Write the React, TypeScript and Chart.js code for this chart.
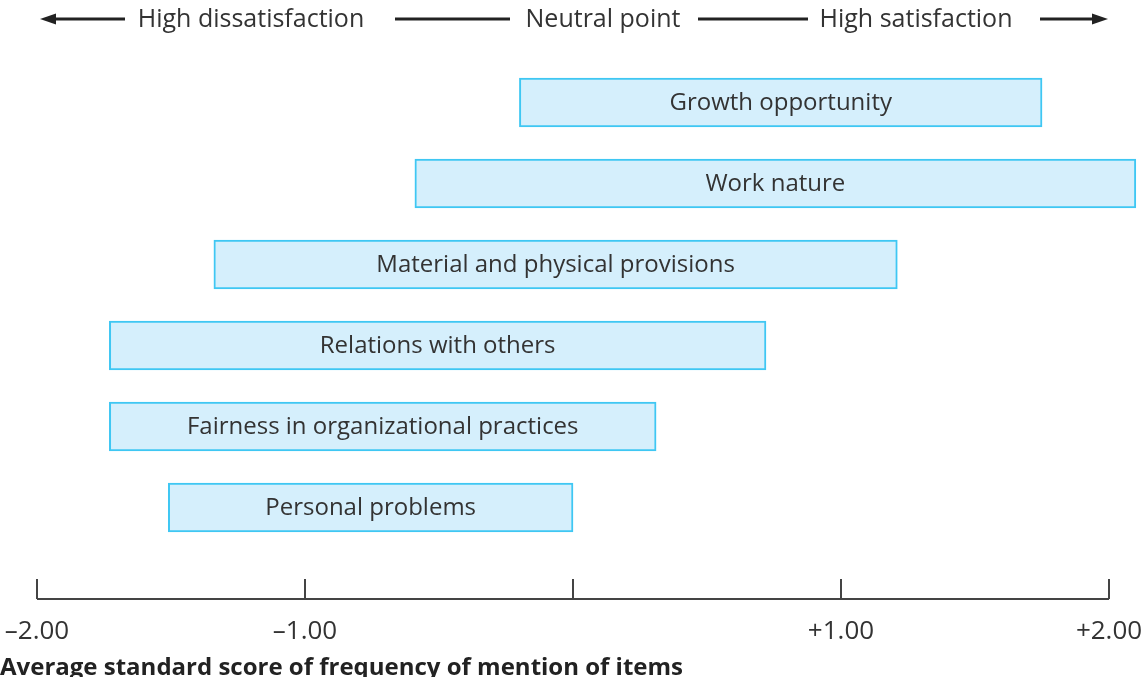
import { useEffect, useRef } from 'react';
import { Chart, registerables } from 'chart.js';

Chart.register(...registerables);

const categories = [
  'Growth opportunity',
  'Work nature',
  'Material and physical provisions',
  'Relations with others',
  'Fairness in organizational practices',
  'Personal problems',
];
const lowValues = [-0.2, -0.59, -1.34, -1.73, -1.73, -1.51];
const highValues = [1.75, 2.1, 1.21, 0.72, 0.31, 0.0];
const tickValues = [-2, -1, 0, 1, 2];
const tickLabels = ['\u20132.00', '\u20131.00', '', '+1.00', '+2.00'];
const headerTexts = ['High dissatisfaction', 'Neutral point', 'High satisfaction'];
const axisTitle = 'Average standard score of frequency of mention of items';

const FONT = '"Open Sans", sans-serif';

export default function App() {
  const ref = useRef<HTMLCanvasElement>(null);

  useEffect(() => {
    if (!ref.current) return;

    const decorPlugin = {
      id: 'decor',
      afterDatasetsDraw(chart: any) {
        const { ctx, chartArea } = chart;
        const xs = chart.scales.x;
        const meta = chart.getDatasetMeta(0);
        ctx.save();
        // bar labels
        ctx.font = `24px ${FONT}`;
        ctx.fillStyle = '#333333';
        ctx.textAlign = 'center';
        ctx.textBaseline = 'middle';
        meta.data.forEach((el: any, i: number) => {
          const { x, base, y } = el.getProps(['x', 'base', 'y'], true);
          ctx.fillText(categories[i], (x + base) / 2, y + 1);
        });
        // axis line and ticks
        const lineY = chartArea.bottom + 51;
        ctx.strokeStyle = '#444444';
        ctx.lineWidth = 2;
        ctx.beginPath();
        ctx.moveTo(xs.getPixelForValue(tickValues[0]), lineY);
        ctx.lineTo(xs.getPixelForValue(tickValues[tickValues.length - 1]), lineY);
        tickValues.forEach((v) => {
          const px = Math.round(xs.getPixelForValue(v));
          ctx.moveTo(px, lineY);
          ctx.lineTo(px, lineY - 20);
        });
        ctx.stroke();
        // header
        const hy = 19;
        ctx.fillStyle = '#333333';
        ctx.font = `25px ${FONT}`;
        const centers = [251, 603, 916];
        headerTexts.forEach((t, i) => ctx.fillText(t, centers[i], hy + 1));
        ctx.strokeStyle = '#222222';
        ctx.lineWidth = 3;
        const segs = [
          [52, 125],
          [395, 510],
          [698, 808],
          [1040, 1096],
        ];
        ctx.beginPath();
        segs.forEach(([a, b]) => {
          ctx.moveTo(a, hy);
          ctx.lineTo(b, hy);
        });
        ctx.stroke();
        ctx.fillStyle = '#222222';
        ctx.beginPath();
        ctx.moveTo(40, hy);
        ctx.lineTo(56, hy - 5.5);
        ctx.lineTo(56, hy + 5.5);
        ctx.closePath();
        ctx.fill();
        ctx.beginPath();
        ctx.moveTo(1108, hy);
        ctx.lineTo(1092, hy - 5.5);
        ctx.lineTo(1092, hy + 5.5);
        ctx.closePath();
        ctx.fill();
        ctx.restore();
      },
    };

    const chart = new Chart(ref.current, {
      type: 'bar',
      data: {
        labels: categories,
        datasets: [
          {
            data: lowValues.map((l, i) => [l, highValues[i]]) as any,
            backgroundColor: '#d5effc',
            borderColor: '#3fc7f3',
            borderWidth: 2,
            borderSkipped: false,
            barThickness: 49,
          },
        ],
      },
      options: {
        indexAxis: 'y',
        responsive: false,
        animation: false,
        layout: { padding: { top: 62, left: 0, right: 0, bottom: 0 } },
        plugins: { legend: { display: false }, tooltip: { enabled: false } },
        scales: {
          y: { type: 'category', display: false, offset: true },
          x: {
            type: 'linear',
            min: -2.138,
            max: 2.123,
            afterBuildTicks: (s: any) => {
              s.ticks = tickValues.map((v) => ({ value: v }));
            },
            afterFit: (s: any) => {
              s.paddingLeft = 0;
              s.paddingRight = 0;
            },
            grid: { display: false, drawTicks: true, tickLength: 68 },
            border: { display: false },
            ticks: {
              padding: 0,
              autoSkip: false,
              maxRotation: 0,
              minRotation: 0,
              color: '#333333',
              font: { family: FONT, size: 26 },
              callback: (v: any) => tickLabels[tickValues.indexOf(Number(v))],
            },
            title: {
              display: true,
              text: axisTitle,
              align: 'start',
              color: '#222222',
              font: { family: FONT, size: 24, weight: 'bold' },
              padding: { top: 7, bottom: 3 },
            },
          },
        },
      },
      plugins: [decorPlugin],
    });
    return () => chart.destroy();
  }, []);

  return (
    <div style={{ position: 'fixed', left: 0, top: 0, width: 1142, height: 686, background: '#fff' }}>
      <canvas ref={ref} width={1142} height={686} style={{ display: 'block' }} />
    </div>
  );
}
